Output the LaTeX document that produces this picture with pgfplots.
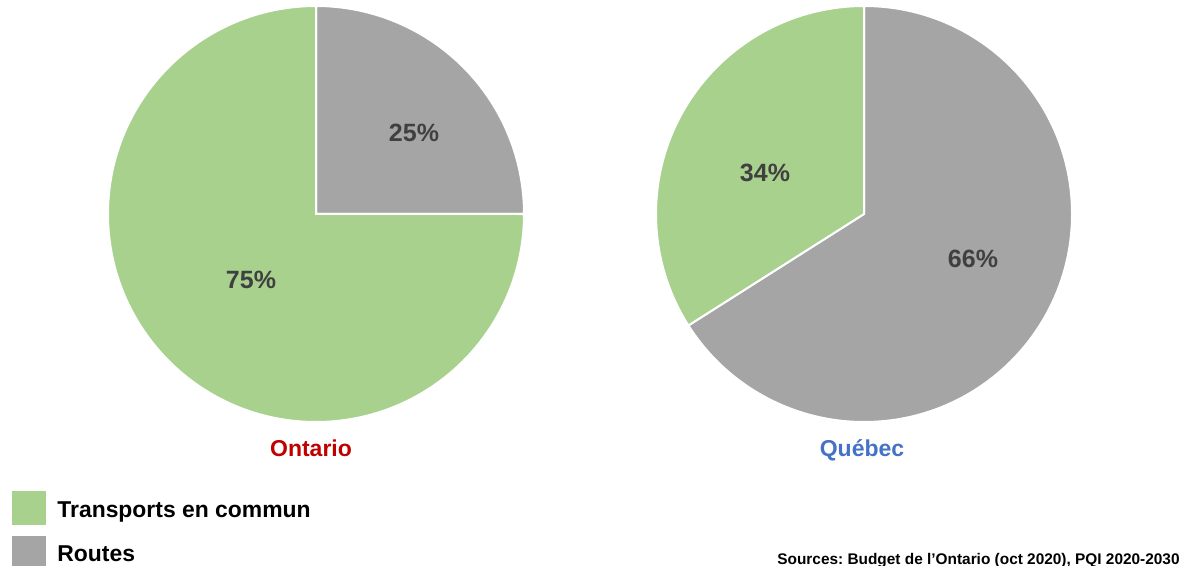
\documentclass[border=0pt]{standalone}
\usepackage{pgfplots}
\pgfplotsset{compat=1.18}
\usepackage{pgfplotstable}
\usepackage{fontspec}
\setmainfont{Liberation Sans}
\frenchspacing
\definecolor{transit}{HTML}{A9D18E}
\definecolor{routes}{HTML}{A5A5A5}
\definecolor{pct}{HTML}{404040}
\definecolor{ontred}{HTML}{C00000}
\definecolor{qcblue}{HTML}{4472C4}

\pgfplotstableread{
region transports routes
Ontario 75 25
Quebec 34 66
}\shares

\pgfplotstablegetelem{0}{transports}\of\shares \edef\OT{\pgfplotsretval}
\pgfplotstablegetelem{0}{routes}\of\shares \edef\OR{\pgfplotsretval}
\pgfplotstablegetelem{1}{transports}\of\shares \edef\QT{\pgfplotsretval}
\pgfplotstablegetelem{1}{routes}\of\shares \edef\QR{\pgfplotsretval}
\pgfmathsetmacro\ORend{90-3.6*\OR}
\pgfmathsetmacro\OTend{90+3.6*\OT}
\pgfmathsetmacro\QRend{90-3.6*\QR}
\pgfmathsetmacro\QTend{90+3.6*\QT}

\pgfplotsset{pie/.style={hide axis, clip=false, anchor=center,
  x=104pt, y=104pt, xmin=-1, xmax=1, ymin=-1, ymax=1}}

\begin{document}
\begin{tikzpicture}
\path[use as bounding box] (0,0) rectangle (590.5pt,-283pt);

\begin{axis}[pie, at={(158pt,-107pt)}]
\addplot[draw=none, forget plot] coordinates {(0,0)};
\filldraw[fill=routes, draw=white, line width=1pt] (axis cs:0,0) -- (axis cs:0,1)
  arc[start angle=90, end angle=\ORend, radius=104pt] -- cycle;
\filldraw[fill=transit, draw=white, line width=1pt] (axis cs:0,0) -- (axis cs:0,1)
  arc[start angle=90, end angle=\OTend, radius=104pt] -- cycle;
\end{axis}

\begin{axis}[pie, at={(432pt,-107pt)}]
\addplot[draw=none, forget plot] coordinates {(0,0)};
\filldraw[fill=routes, draw=white, line width=1pt] (axis cs:0,0) -- (axis cs:0,1)
  arc[start angle=90, end angle=\QRend, radius=104pt] -- cycle;
\filldraw[fill=transit, draw=white, line width=1pt] (axis cs:0,0) -- (axis cs:0,1)
  arc[start angle=90, end angle=\QTend, radius=104pt] -- cycle;
\end{axis}

\begin{scope}[x=0.5pt,y=-0.5pt]
\tikzset{pl/.style={anchor=base, font=\fontsize{12.5}{14}\selectfont\bfseries, text=pct, inner sep=0pt}}
\node[pl] at (414,142) {\OR\%};
\node[pl] at (251,289) {\OT\%};
\node[pl] at (765,182) {\QT\%};
\node[pl] at (973,268) {\QR\%};

\node[anchor=base, font=\fontsize{11.5}{13}\selectfont\bfseries, text=ontred, inner sep=0pt] at (311,456.5) {Ontario};
\node[anchor=base, font=\fontsize{11.5}{13}\selectfont\bfseries, text=qcblue, inner sep=0pt] at (862,456) {Québec};

\fill[transit] (12,491) rectangle (46,525);
\fill[routes] (12,536) rectangle (46,570);
\node[anchor=base west, font=\fontsize{11.45}{13}\selectfont\bfseries, inner sep=0pt] at (57,517) {Transports en commun};
\node[anchor=base west, font=\fontsize{11.45}{13}\selectfont\bfseries, inner sep=0pt] at (57,561) {Routes};

\node[anchor=base east, font=\fontsize{7.7}{9}\selectfont\bfseries, inner sep=0pt] at (1180,564) {Sources: Budget de l’Ontario (oct 2020), PQI 2020-2030};
\end{scope}
\end{tikzpicture}
\end{document}
